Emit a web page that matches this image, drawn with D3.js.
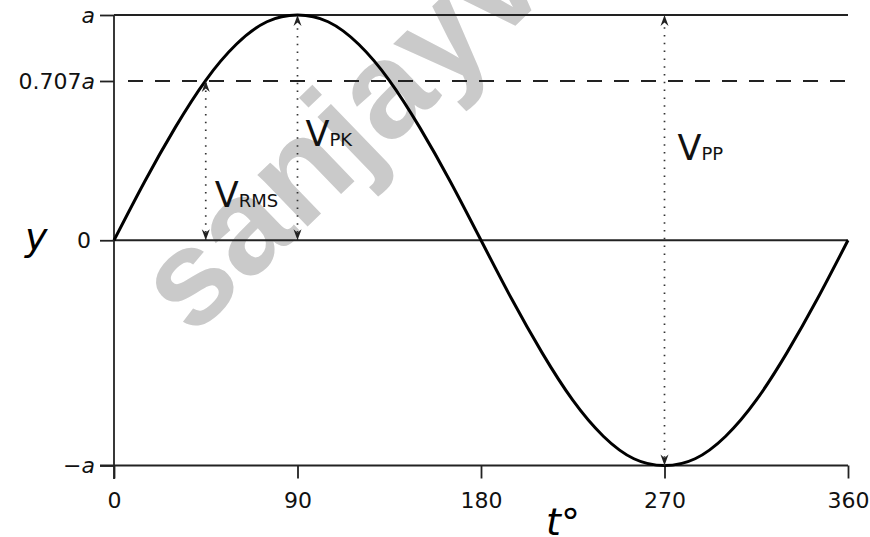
<!DOCTYPE html>
<meta charset="utf-8">
<style>
    body { margin: 0; background: #fff; }
    svg { font-family: "DejaVu Sans", Verdana, sans-serif; }
    .tick line { stroke: #222; stroke-width: 1.8; }
    .guide { stroke: #222; stroke-width: 1.8; fill: none; }
    .arrow { stroke: #333; stroke-width: 1.7; stroke-dasharray: 1.5, 6.3; fill: none; }
    .vlab { fill: #111; }
</style>
<body>
<svg id="chart" width="870" height="537"></svg>
</body>
<script src="https://cdn.jsdelivr.net/npm/d3@7"></script>
<script>
    // sine wave, every 15 degrees
    var angles = [0, 15, 30, 45, 60, 75, 90, 105, 120, 135, 150, 165, 180,
                  195, 210, 225, 240, 255, 270, 285, 300, 315, 330, 345, 360];
    var values = [0, 0.26, 0.5, 0.71, 0.87, 0.97, 1, 0.97, 0.87, 0.71, 0.5, 0.26, 0,
                  -0.26, -0.5, -0.71, -0.87, -0.97, -1, -0.97, -0.87, -0.71, -0.5, -0.26, 0];

    var xTicks = [0, 90, 180, 270, 360];
    var yTicks = [1, 0.707, 0, -1];
    var yTickLabels = [["", "a"], ["0.707", "a"], ["0", ""], ["\u2212", "a"]];

    // horizontal reference levels (a, rms, zero)
    var levels = [1, 0.707, 0];
    var levelDashed = [false, true, false];

    // measurement arrows: angle, from, to, subscript
    var arrowAt = [45, 90, 270];
    var arrowFrom = [0, 0, -1];
    var arrowTo = [0.707, 1, 1];
    var arrowSub = ["RMS", "PK", "PP"];

    var svg = d3.select("#chart");

    var x = d3.scaleLinear().domain([0, 360]).range([114, 848]);
    var y = d3.scaleLinear().domain([-1, 1]).range([465.5, 15]);

    // watermark, behind everything
    svg.append("text")
        .attr("transform", "translate(192,338) rotate(-44)")
        .style("font-family", "'Liberation Sans', Arial, sans-serif")
        .style("font-size", "136px")
        .style("font-weight", "bold")
        .style("fill", "#cacaca")
        .text("sanjayv");

    // arrow heads
    var defs = svg.append("defs");
    defs.append("marker")
        .attr("id", "head")
        .attr("viewBox", "-12 -5 13 10")
        .attr("refX", 0).attr("refY", 0)
        .attr("markerWidth", 13).attr("markerHeight", 10)
        .attr("markerUnits", "userSpaceOnUse")
        .attr("orient", "auto-start-reverse")
        .append("path")
        .attr("d", "M0,0 L-11,-4 L-7.5,0 L-11,4 Z")
        .attr("fill", "#222");

    // level lines
    svg.selectAll("line.level")
        .data(levels)
        .enter().append("line")
        .attr("class", "guide level")
        .attr("x1", function(d, i) { return levelDashed[i] ? x(0) + 14 : x(0); })
        .attr("x2", x(360))
        .attr("y1", function(d) { return y(d); })
        .attr("y2", function(d) { return y(d); })
        .style("stroke-dasharray", function(d, i) { return levelDashed[i] ? "15,12" : null; });

    // x axis
    var xAxis = svg.append("g")
        .attr("transform", "translate(0," + y(-1) + ")")
        .call(d3.axisBottom(x).tickValues(xTicks).tickSize(13).tickPadding(14).tickFormat(d3.format("d")));
    xAxis.select(".domain").remove();
    xAxis.append("line")
        .attr("class", "guide")
        .attr("x1", x(0) - 14).attr("x2", x(360));

    // y axis
    var yAxis = svg.append("g")
        .attr("transform", "translate(" + x(0) + ",0)")
        .call(d3.axisLeft(y).tickValues(yTicks).tickSize(14).tickPadding(5).tickFormat(""));
    yAxis.select(".domain").remove();
    yAxis.append("line")
        .attr("class", "guide")
        .attr("y1", y(1)).attr("y2", y(-1) + 13.5);

    yAxis.selectAll(".tick text").each(function(d) {
        var lab = yTickLabels[yTicks.indexOf(d)];
        var t = d3.select(this);
        if (d === 0) t.attr("dx", -4);
        t.append("tspan").text(lab[0]);
        if (lab[1]) t.append("tspan").style("font-style", "italic").text(lab[1]);
    });

    svg.selectAll(".tick text")
        .style("font-family", "'DejaVu Sans', Verdana, sans-serif")
        .style("font-size", "22px")
        .style("fill", "#111");

    // the wave
    var line = d3.line()
        .x(function(d, i) { return x(angles[i]); })
        .y(function(d) { return y(d); })
        .curve(d3.curveNatural);

    svg.append("path")
        .datum(values)
        .attr("d", line)
        .attr("fill", "none")
        .attr("stroke", "#000")
        .attr("stroke-width", 3);

    // dotted measurement arrows
    svg.selectAll("line.arrow")
        .data(arrowAt)
        .enter().append("line")
        .attr("class", "arrow")
        .attr("x1", function(d) { return x(d); })
        .attr("x2", function(d) { return x(d); })
        .attr("y1", function(d, i) { return y(arrowFrom[i]); })
        .attr("y2", function(d, i) { return y(arrowTo[i]); })
        .attr("marker-start", "url(#head)")
        .attr("marker-end", "url(#head)");

    // V labels
    var labDx = [9, 8, 13];
    var labY = [0.147, 0.42, 0.356];
    var vl = svg.selectAll("text.vlab")
        .data(arrowSub)
        .enter().append("text")
        .attr("class", "vlab")
        .attr("x", function(d, i) { return x(arrowAt[i]) + labDx[i]; })
        .attr("y", function(d, i) { return y(labY[i]); });
    vl.append("tspan").style("font-size", "35px").text("V");
    vl.append("tspan").style("font-size", "18px").attr("dx", 0).text(function(d) { return d; });

    // axis names
    svg.append("text")
        .attr("x", 25).attr("y", 250)
        .style("font-size", "38px").style("font-style", "italic")
        .text("y");
    svg.append("text")
        .attr("x", 546).attr("y", 535)
        .style("font-size", "38px").style("font-style", "italic")
        .text("t\u00b0");
</script>
